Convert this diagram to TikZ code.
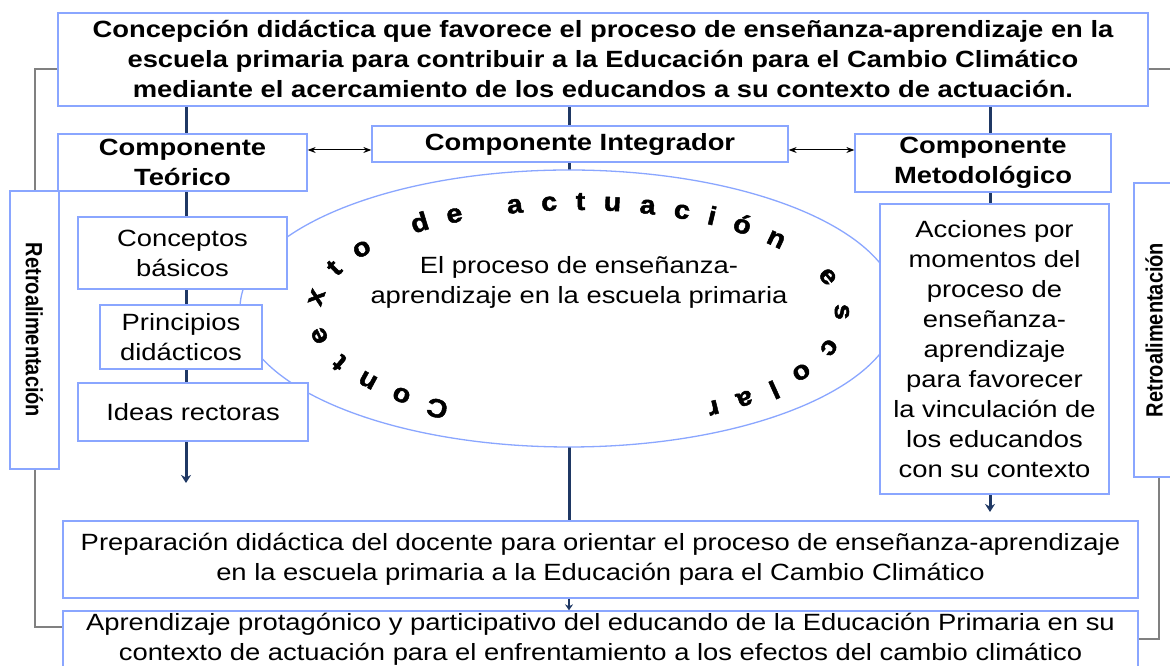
\documentclass[tikz,border=0pt]{standalone}
\usepackage{fontspec}
\usepackage{graphicx}
\setmainfont{Liberation Sans}[FakeStretch=1.165]
\newfontfamily\retrofont{Liberation Sans}[FakeStretch=0.85]
\newfontfamily\arcfont{Liberation Sans}[FakeStretch=1.1,FakeBold=1.8]
\usetikzlibrary{shapes.geometric,arrows.meta,backgrounds,decorations.text}
\definecolor{boxblue}{RGB}{138,166,255}
\definecolor{navy}{RGB}{31,56,100}
\definecolor{fbgray}{RGB}{128,128,128}
\begin{document}
\begin{tikzpicture}[x=1pt,y=1pt,
    box/.style={draw=boxblue,line width=1.3pt,fill=white,align=center,inner sep=0pt,
      font=\fontsize{23.5}{30}\selectfont},
    bbox/.style={box,font=\fontsize{23.5}{30}\selectfont\bfseries},
    flow/.style={draw=navy,line width=3pt},
    fb/.style={draw=fbgray,line width=2pt},
    biarrow/.style={<->,>={Stealth[length=8pt,width=6pt]},line width=1pt}]
  \useasboundingbox (0,0) rectangle (1170,666);
  \clip (0,0) rectangle (1170,666);
  \node[ellipse,draw=boxblue,line width=1.3pt,fill=white,minimum width=658,minimum height=277,inner sep=0pt] (ctx) at (569,357.5) {};
  \path[decorate,decoration={text along path,text align={fit to path},
      text={|\arcfont\fontsize{26}{26}\selectfont\bfseries|Contexto de actuación escolar}}]
    (578,353) ++(240:257 and 103) arc[start angle=240,end angle=-60,x radius=257,y radius=103];
  \node[font=\fontsize{23.5}{30}\selectfont,align=center] (ctxt) at (579,383.5) {El proceso de enseñanza-\\aprendizaje en la escuela primaria};
  \node[bbox,minimum width=1090,minimum height=93] (top) at (603,606.5) {Concepción didáctica que favorece el proceso de enseñanza-aprendizaje en la\\escuela primaria para contribuir a la Educación para el Cambio Climático\\mediante el acercamiento de los educandos a su contexto de actuación.};
  \node[bbox,minimum width=249,minimum height=57] (teo) at (182.5,503.5) {Componente\\Teórico};
  \node[bbox,minimum width=416,minimum height=36] (integ) at (580,522) {Componente Integrador};
  \node[bbox,minimum width=256,minimum height=58] (met) at (983,503) {Componente\\Metodológico};
  \node[box,minimum width=49,minimum height=278] (retroL) at (34.5,336) {\rotatebox{-90}{\retrofont\bfseries Retroalimentación}};
  \node[box,minimum width=40,minimum height=294] (retroR) at (1154,336) {\rotatebox{90}{\retrofont\bfseries Retroalimentación}};
  \node[box,minimum width=209,minimum height=72] (conc) at (182.5,413) {Conceptos\\básicos};
  \node[box,minimum width=162,minimum height=64] (princ) at (181,329) {Principios\\didácticos};
  \node[box,minimum width=230,minimum height=58] (ideas) at (193,254) {Ideas rectoras};
  \node[box,minimum width=229,minimum height=290] (acc) at (994.5,317) {Acciones por\\momentos del\\proceso de\\enseñanza-\\aprendizaje\\para favorecer\\la vinculación de\\los educandos\\con su contexto};
  \node[box,minimum width=1075,minimum height=77] (prep) at (600.5,106.5) {Preparación didáctica del docente para orientar el proceso de enseñanza-aprendizaje\\en la escuela primaria a la Educación para el Cambio Climático};
  \node[box,minimum width=1075,minimum height=57] (aprend) at (600.5,26.5) {Aprendizaje protagónico y participativo del educando de la Educación Primaria en su\\contexto de actuación para el enfrentamiento a los efectos del cambio climático};
  \coordinate (teoend) at (186,183);
  \coordinate (metend) at (990,154);
  \begin{scope}[on background layer]
    \draw[flow,-{Stealth[length=8pt,width=10pt]}] (teoend |- top.south) -- (teoend);
    \draw[flow,-{Stealth[length=8pt,width=10pt]}] (metend |- top.south) -- (metend);
    \draw[flow] (ctx.north |- top.south) -- (ctx.north |- prep.north);
  \end{scope}
  \draw[flow,line width=2pt,-{Stealth[length=6pt,width=8pt]}] (prep.south -| ctx) -- (aprend.north -| ctx);
  \draw[biarrow] ([yshift=-6pt]integ.west) -- ([yshift=-6pt]integ.west -| teo.east);
  \draw[biarrow] ([yshift=-6pt]integ.east) -- ([yshift=-6pt]integ.east -| met.west);
  \draw[fb] ([yshift=-10pt]top.west) -| (retroL.north);
  \draw[fb] (retroL.south) |- ([yshift=12pt]aprend.west);
  \draw[fb] ([yshift=-10pt]top.east) -| (retroR.north east);
  \draw[fb] ([xshift=5pt]retroR.south) |- (aprend.east);
\end{tikzpicture}
\end{document}
